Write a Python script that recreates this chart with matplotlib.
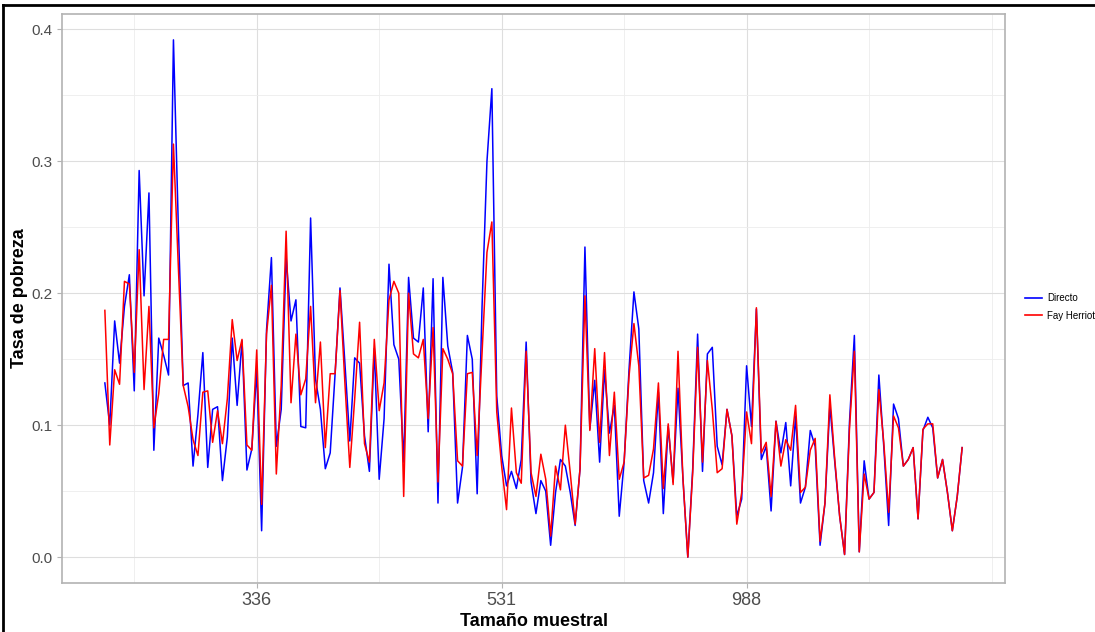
import matplotlib
matplotlib.use("Agg")
import matplotlib.pyplot as plt
from matplotlib.lines import Line2D
from matplotlib.ticker import FixedLocator

plt.rcParams['font.family'] = ['Liberation Sans', 'DejaVu Sans']

# Position index (ranked by sample size)
x_start = 19
directo = [
    .132, .100, .179, .147, .190, .214, .126, .293, .198, .276,
    .081, .166, .153, .138, .392, .250, .130, .132, .069, .108,
    .155, .068, .112, .114, .058, .091, .166, .115, .164, .066,
    .082, .142, .020, .172, .227,
    .084, .112, .227, .179, .195, .099, .098, .257, .135, .112,
    .067, .079, .139, .204, .147, .088, .151, .147, .092, .065,
    .158, .059, .105, .222, .161, .150, .072, .212, .166, .163,
    .204, .095, .211, .041, .212,
    .160, .140, .041, .068, .168, .150, .048, .190, .300, .355,
    .122, .077, .054, .065, .052, .074, .163, .057, .033, .058,
    .050, .009, .049, .074, .069, .049, .024, .067, .235, .097,
    .134, .072, .142, .094, .115,
    .031, .072, .142, .201, .173, .058, .041, .064, .125, .033,
    .099, .057, .128, .060, .000, .067, .169, .065, .154, .159,
    .084, .070, .112, .092, .031, .044, .145, .099, .188, .074,
    .084, .035, .103, .079, .102,
    .054, .107, .041, .053, .096, .084, .009, .041, .115, .072,
    .031, .002, .102, .168, .004, .073, .044, .049, .138, .084,
    .024, .116, .105, .069, .074, .083, .029, .096, .106, .098,
    .060, .074, .049, .020, .046, .083,
]
fay_herriot = [
    .187, .085, .142, .131, .209, .207, .140, .233, .127, .190,
    .098, .124, .165, .165, .313, .220, .130, .114, .089, .077,
    .125, .126, .087, .111, .086, .120, .180, .149, .165, .085,
    .081, .157, .040, .169, .206,
    .063, .130, .247, .117, .169, .123, .135, .190, .117, .163,
    .083, .139, .139, .202, .132, .068, .120, .178, .086, .072,
    .165, .111, .132, .195, .209, .200, .046, .200, .154, .151,
    .165, .105, .174, .057, .158,
    .150, .139, .073, .069, .139, .140, .077, .155, .231, .254,
    .110, .069, .036, .113, .064, .056, .156, .064, .046, .078,
    .059, .016, .069, .051, .100, .064, .025, .067, .198, .096,
    .158, .087, .155, .077, .125,
    .059, .072, .137, .177, .145, .060, .062, .082, .132, .052,
    .101, .055, .156, .060, .000, .064, .159, .072, .149, .112,
    .064, .067, .112, .092, .025, .049, .110, .086, .189, .079,
    .087, .046, .103, .069, .089,
    .081, .115, .049, .053, .081, .090, .012, .041, .123, .074,
    .031, .002, .097, .156, .004, .063, .044, .049, .127, .087,
    .034, .107, .098, .069, .074, .083, .029, .097, .101, .101,
    .060, .074, .049, .020, .046, .083,
]
x_vals = list(range(x_start, x_start + len(directo)))

tick_positions = [50, 100, 150]
tick_labels = ["336", "531", "988"]
y_ticks = [0.0, 0.1, 0.2, 0.3, 0.4]
series_names = ["Directo", "Fay Herriot"]
series_colors = ["#0000FF", "#FF0000"]

fig = plt.figure(figsize=(10.95, 6.32), dpi=100)
ax = fig.add_axes([62 / 1095, 1 - 583 / 632, (1005 - 62) / 1095, (583 - 14) / 632])

ax.plot(x_vals, directo, color=series_colors[0], lw=1.1, zorder=3)
ax.plot(x_vals, fay_herriot, color=series_colors[1], lw=1.1, zorder=4)

xmin, xmax = min(x_vals), max(x_vals)
xr = xmax - xmin
ax.set_xlim(xmin - 0.05 * xr, xmax + 0.05 * xr)
ymax = max(max(directo), max(fay_herriot))
ax.set_ylim(-0.05 * ymax, ymax * 1.05)

ax.xaxis.set_major_locator(FixedLocator(tick_positions))
ax.set_xticklabels(tick_labels)
ax.xaxis.set_minor_locator(FixedLocator([25, 75, 125, 175, 200]))
ax.set_yticks(y_ticks)
ax.set_yticklabels([f"{v:.1f}" for v in y_ticks])
ax.yaxis.set_minor_locator(FixedLocator([0.05, 0.15, 0.25, 0.35]))

ax.grid(which='major', color='#DEDEDE', lw=0.8, zorder=0)
ax.grid(which='minor', color='#EDEDED', lw=0.6, zorder=0)
for s in ax.spines.values():
    s.set_color('#B3B3B3')
    s.set_linewidth(1.2)
ax.tick_params(which='major', length=3.5, color='#B3B3B3', width=0.8)
ax.tick_params(which='minor', length=0)
ax.tick_params(axis='y', labelsize=11, labelcolor='#4D4D4D', pad=3)
ax.tick_params(axis='x', labelsize=13, labelcolor='#4D4D4D', pad=3)

ax.set_xlabel("Tamaño muestral", fontsize=13, fontweight='bold', labelpad=3)
ax.set_ylabel("Tasa de pobreza", fontsize=13, fontweight='bold')
ax.yaxis.set_label_coords(-0.036, 0.5)

handles = [Line2D([0], [0], color=c, lw=1.2) for c in series_colors]
fig.legend(handles, series_names, loc='center left',
           bbox_to_anchor=(1016 / 1095, 1 - 307 / 632), frameon=False,
           fontsize=7, handlelength=1.8, handletextpad=0.5, labelspacing=0.8)

# black frame (top and left edges visible)
fig.add_artist(Line2D([3 / 1095, 1.0], [1 - 5 / 632, 1 - 5 / 632],
                      transform=fig.transFigure, color='black', lw=2))
fig.add_artist(Line2D([3 / 1095, 3 / 1095], [0, 1 - 5 / 632],
                      transform=fig.transFigure, color='black', lw=2))

fig.savefig("out.png", dpi=100, facecolor='white')
